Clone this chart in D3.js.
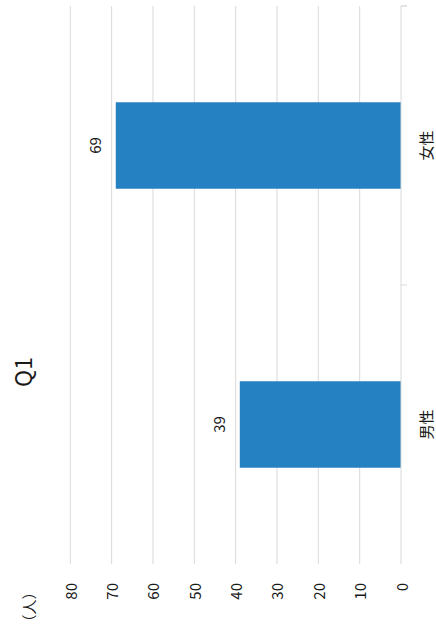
<!DOCTYPE html>
<html lang="ja">
<head>
<meta charset="utf-8">
<title>Q1</title>
<style>
  body { margin: 0; background: #fff; }
  text { font-family: "Noto Sans CJK JP", "Noto Sans", sans-serif; fill: #1a1a1a; }
</style>
</head>
<body>
<svg id="chart" width="436" height="630"></svg>
<script src="https://d3js.org/d3.v7.min.js"></script>
<script>
  // data
  var categories = ["男性", "女性"];
  var counts = [39, 69];
  var valueTicks = [0, 10, 20, 30, 40, 50, 60, 70, 80];
  var title = "Q1";
  var unitLabel = "（人）";

  var svg = d3.select("#chart");

  // the chart is drawn turned a quarter turn: values run right->left, categories bottom->top
  var xScale = d3.scaleLinear()
    .domain([0, 80])
    .range([401, 70.3]);

  var yScale = d3.scaleBand()
    .domain(categories)
    .range([564, 6]);

  var barW = yScale.bandwidth() * 0.31;

  // grid
  svg.selectAll("line.grid")
    .data(valueTicks.slice(1))
    .join("line")
      .attr("class", "grid")
      .attr("x1", d => xScale(d))
      .attr("x2", d => xScale(d))
      .attr("y1", 6)
      .attr("y2", 564)
      .attr("stroke", "#d9d9d9")
      .attr("stroke-width", 1);

  // bars
  svg.selectAll("rect")
    .data(counts)
    .join("rect")
      .attr("x", d => xScale(d))
      .attr("width", d => xScale(0) - xScale(d))
      .attr("y", (d, i) => yScale(categories[i]) + (yScale.bandwidth() - barW) / 2)
      .attr("height", barW)
      .attr("fill", "#2681c3");

  // category axis line + ticks between categories
  svg.append("line")
    .attr("x1", xScale(0)).attr("x2", xScale(0))
    .attr("y1", 6).attr("y2", 564)
    .attr("stroke", "#d9d9d9");

  var bounds = [6].concat(categories.map(c => yScale(c)));
  svg.selectAll("line.tick")
    .data(bounds)
    .join("line")
      .attr("class", "tick")
      .attr("x1", xScale(0)).attr("x2", xScale(0) + 6)
      .attr("y1", d => d).attr("y2", d => d)
      .attr("stroke", "#d9d9d9");

  // value tick labels
  svg.selectAll("text.vt")
    .data(valueTicks)
    .join("text")
      .attr("class", "vt")
      .attr("transform", d => "translate(" + xScale(d) + ",583) rotate(-90)")
      .attr("text-anchor", "end")
      .attr("dominant-baseline", "central")
      .style("font-size", "15px")
      .text(d => d);

  // category labels
  svg.selectAll("text.cat")
    .data(categories)
    .join("text")
      .attr("class", "cat")
      .attr("transform", d => "translate(425.5," + (yScale(d) + yScale.bandwidth() / 2) + ") rotate(-90)")
      .attr("text-anchor", "middle")
      .attr("dominant-baseline", "central")
      .style("font-size", "15px")
      .text(d => d);

  // value labels
  svg.selectAll("text.val")
    .data(counts)
    .join("text")
      .attr("class", "val")
      .attr("transform", (d, i) => "translate(" + (xScale(d) - 14.5) + "," + (yScale(categories[i]) + yScale.bandwidth() / 2) + ") rotate(-90)")
      .attr("text-anchor", "middle")
      .style("font-size", "15px")
      .text(d => d);

  // title
  svg.append("text")
    .attr("transform", "translate(22,372) rotate(-90)")
    .attr("text-anchor", "middle")
    .attr("dominant-baseline", "central")
    .style("font-size", "23px")
    .text(title);

  // unit
  svg.append("text")
    .attr("transform", "translate(28,607) rotate(-90)")
    .attr("text-anchor", "middle")
    .attr("dominant-baseline", "central")
    .style("font-size", "15px")
    .text(unitLabel);
</script>
</body>
</html>
